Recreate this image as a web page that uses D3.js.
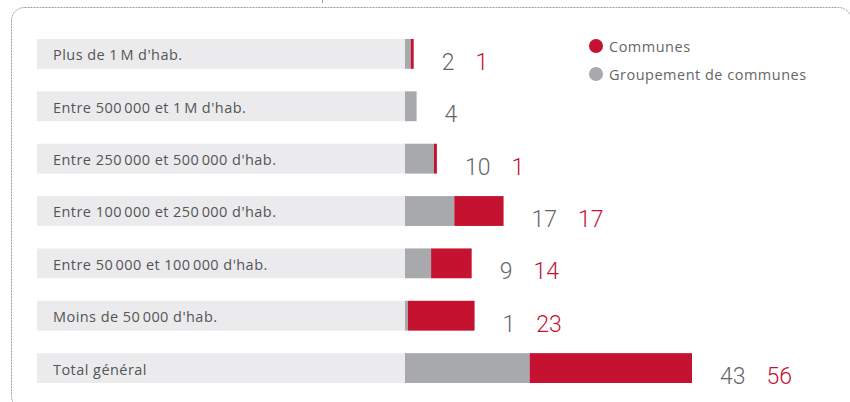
<!DOCTYPE html>
<html>
<head>
<meta charset="utf-8">
<script src="https://cdn.jsdelivr.net/npm/d3@7"></script>
<style>
  body { margin: 0; background: #fff; }
  svg { display: block; }
</style>
</head>
<body>
<script>
// données
const categories = [
  "Plus de 1\u202FM d'hab.",
  "Entre 500\u202F000 et 1\u202FM d'hab.",
  "Entre 250\u202F000 et 500\u202F000 d'hab.",
  "Entre 100\u202F000 et 250\u202F000 d'hab.",
  "Entre 50\u202F000 et 100\u202F000 d'hab.",
  "Moins de 50\u202F000 d'hab.",
  "Total général"
];
const groupements = [2, 4, 10, 17, 9, 1, 43];
const communes = [1, 0, 1, 17, 14, 23, 56];
const legendLabels = ["Communes", "Groupement de communes"];

const width = 850, height = 402;
const red = "#c41230", grey = "#a8a9ad", bg = "#ebebed";
const numFont = "Roboto, 'Open Sans', sans-serif";
const txtFont = "'Open Sans', 'Noto Sans', sans-serif";

const svg = d3.select("body").append("svg")
  .attr("width", width)
  .attr("height", height);

/* cadre */
svg.append("rect")
  .attr("x", 11.5).attr("y", 7.5)
  .attr("width", 840).attr("height", 402)
  .attr("rx", 13)
  .attr("fill", "none")
  .attr("stroke", "#9a9a9a")
  .attr("stroke-dasharray", "2,1");

svg.append("line")
  .attr("x1", 322.5).attr("x2", 322.5)
  .attr("y1", 0).attr("y2", 3)
  .attr("stroke", "#9a9a9a");

/* échelles */
const y = d3.scaleBand()
  .domain(categories)
  .range([39, 383])
  .paddingInner(0.43);

const x = d3.scaleLinear()
  .domain([0, 99])
  .range([405, 692]);

const rows = svg.selectAll("g.row")
  .data(categories)
  .join("g")
  .attr("class", "row")
  .attr("transform", d => "translate(0," + y(d) + ")");

// fond des libellés
rows.append("rect")
  .attr("x", 37)
  .attr("width", x(0) - 37)
  .attr("height", y.bandwidth())
  .attr("fill", bg);

rows.append("text")
  .attr("x", 53)
  .attr("y", y.bandwidth() / 2 + 6.5)
  .attr("font-family", txtFont)
  .attr("font-size", 14.5)
  .attr("letter-spacing", 0.45)
  .attr("fill", "#555")
  .text(d => d);

// barres
rows.append("rect")
  .attr("x", x(0))
  .attr("width", (d, i) => x(groupements[i]) - x(0))
  .attr("height", y.bandwidth())
  .attr("fill", grey);

rows.append("rect")
  .attr("x", (d, i) => x(groupements[i]))
  .attr("width", (d, i) => x(groupements[i] + communes[i]) - x(groupements[i]))
  .attr("height", y.bandwidth())
  .attr("fill", red);

// valeurs
rows.each(function(d, i) {
  const g = d3.select(this);
  const end = x(groupements[i] + communes[i]);
  const t1 = g.append("text")
    .attr("x", end + 28)
    .attr("y", y.bandwidth() + 1)
    .attr("font-family", numFont)
    .attr("font-weight", 300)
    .attr("font-size", 23)
    .attr("fill", "#666")
    .text(groupements[i]);
  if (communes[i] > 0) {
    const w = t1.node().getComputedTextLength();
    g.append("text")
      .attr("x", end + 28 + w + 21)
      .attr("y", y.bandwidth() + 1)
      .attr("font-family", numFont)
      .attr("font-weight", 300)
      .attr("font-size", 23)
      .attr("fill", red)
      .text(communes[i]);
  }
});

/* légende */
const legend = svg.selectAll("g.legend")
  .data(legendLabels)
  .join("g")
  .attr("class", "legend")
  .attr("transform", (d, i) => "translate(596," + (46 + i * 28) + ")");

legend.append("circle")
  .attr("r", 7)
  .attr("fill", (d, i) => i === 0 ? red : grey);

legend.append("text")
  .attr("x", 13)
  .attr("y", 5.5)
  .attr("font-family", txtFont)
  .attr("font-size", 14.5)
  .attr("letter-spacing", 0.5)
  .attr("fill", "#666")
  .text(d => d);
</script>
</body>
</html>
